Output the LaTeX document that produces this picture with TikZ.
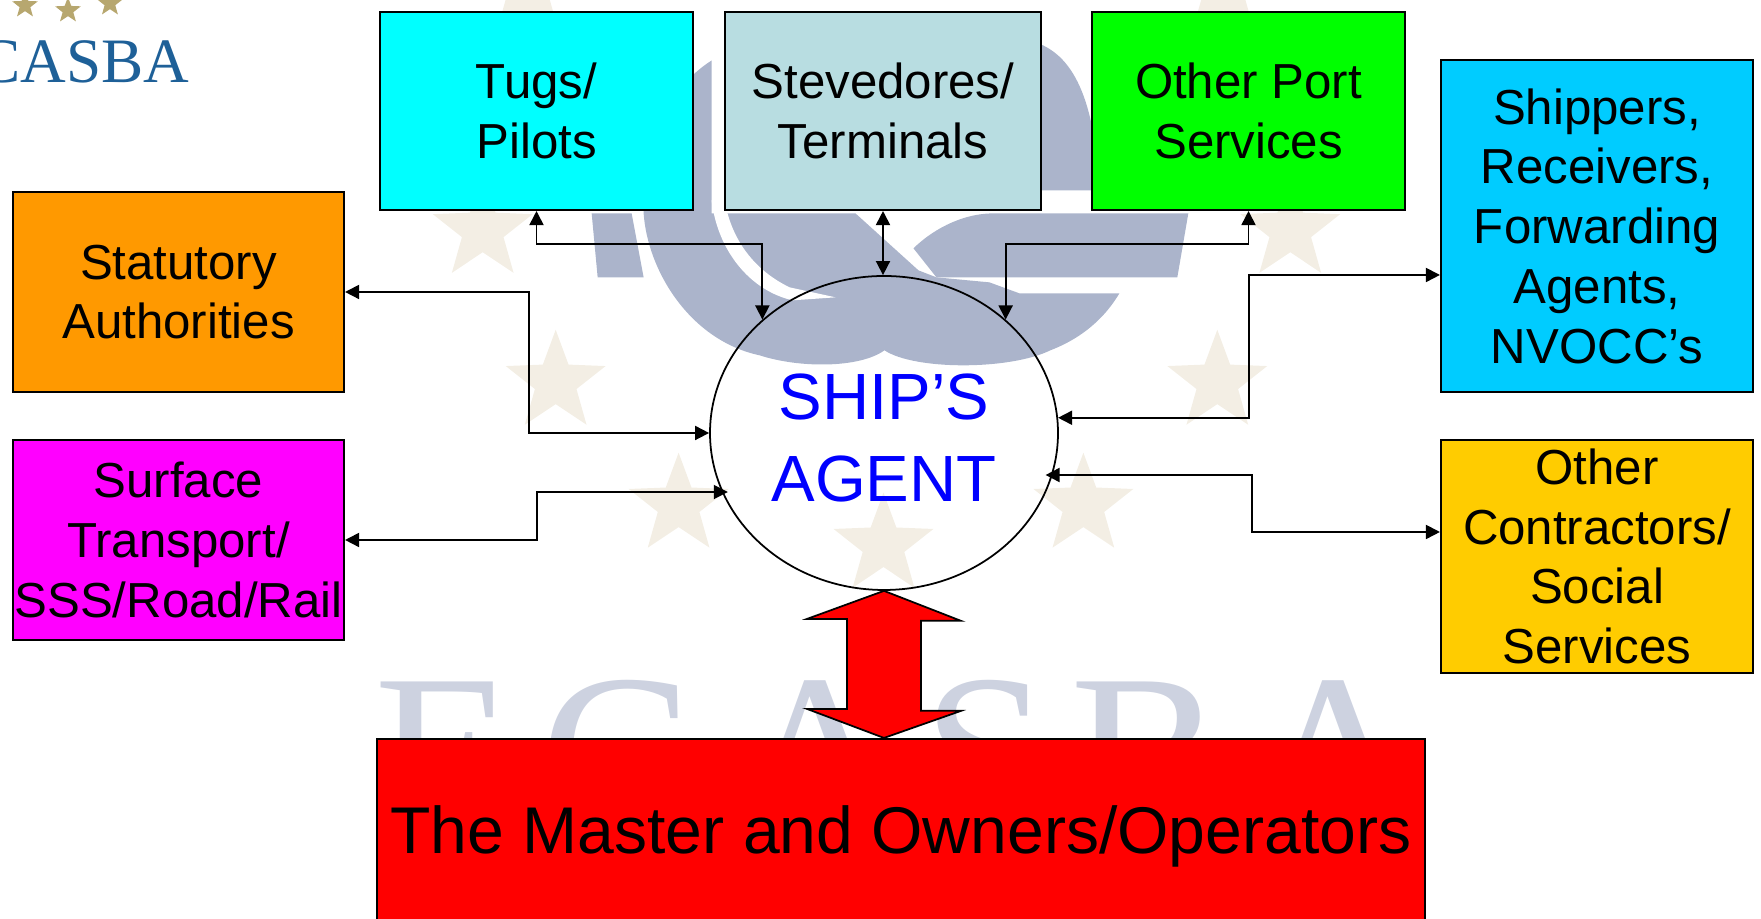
\documentclass[tikz,border=0pt]{standalone}
\usepackage{fontspec}
\setmainfont{Liberation Sans}
\newfontfamily\logofont{Liberation Serif}
\usetikzlibrary{arrows.meta,shapes.geometric}
\definecolor{tugcyan}{HTML}{00FFFF}
\definecolor{portgreen}{HTML}{00FF00}
\definecolor{surfacepink}{HTML}{FF00FF}
\definecolor{shipblue}{HTML}{00CCFF}
\definecolor{stevedore}{HTML}{B8DDE1}
\definecolor{statorange}{HTML}{FF9900}
\definecolor{contractgold}{HTML}{FFCC00}
\definecolor{markgray}{HTML}{ABB4CB}
\definecolor{lettergray}{HTML}{CDD2E0}
\definecolor{palestar}{HTML}{F3EEE4}
\definecolor{logostar}{HTML}{B7A76F}
\definecolor{logoblue}{HTML}{1E6098}

\begin{document}
\begin{tikzpicture}[
		party/.style={draw=black, line width=0.6pt, inner sep=0pt, align=center, font=\fontsize{14}{17}\selectfont},
		agentnode/.style={draw=black, line width=0.5pt, ellipse, inner sep=0pt, align=center, text=blue, minimum width=3.48cm, minimum height=3.14cm, font=\fontsize{18.6}{23.3}\selectfont},
		link/.style={{Triangle[length=4pt,width=4pt]}-{Triangle[length=4pt,width=4pt]}, line width=0.5pt, black},
		duty/.style={draw=black, line width=0.5pt, fill=red},
		watermark/.style={star, star points=5, star point ratio=2.4, minimum size=1.05cm, inner sep=0pt, fill=palestar},
		crest/.style={star, star points=5, star point ratio=2.4, minimum size=0.27cm, inner sep=0pt, fill=logostar}
		]
		
		\path[use as bounding box, clip] (0,0) rectangle (17.61,9.19);
		
		% Watermark, in reference pixels
		\begin{scope}[x=0.01cm, y=-0.01cm, shift={(0,-919)}]
			\foreach \sx/\sy in {483/230, 556/382, 679/505, 884/545, 1084/505, 1218/382, 1291/230, 1224/-12, 528/-12}
				\node[watermark] at (\sx,\sy) {};
			\foreach \ch/\cx in {E/445, C/617, A/817, S/987, B/1147, A/1336}
				\node[anchor=base, text=lettergray, inner sep=0pt, font=\logofont\fontsize{65}{65}\selectfont] at (\cx,831) {\ch};
			\fill[markgray] (592,213) -- (632,213) -- (644,277) -- (598,277) -- cycle;
			\fill[markgray] (712,60) .. controls (665,90) and (640,150) .. (644,213) .. controls (648,270) and (690,340) .. (760,355) .. controls (800,368) and (860,368) .. (885,350) .. controls (915,370) and (1010,370) .. (1051,350) .. controls (1090,335) and (1110,310) .. (1120,293) -- (1020,293) -- (990,282) -- (937,277) -- (919,270) -- (856,213) -- (712,213) -- cycle;
			\fill[white] (712,200) .. controls (718,250) and (750,290) .. (793,300) -- (836,297) -- (790,287) .. controls (755,270) and (732,240) .. (725,200) -- cycle;
			\fill[markgray] (914,248) .. controls (930,232) and (960,213) .. (994,213) -- (1189,213) -- (1178,277) -- (937,277) -- cycle;
			\fill[markgray] (1030,40) .. controls (1070,50) and (1095,90) .. (1100,190) -- (1030,190) -- cycle;
			% Logo
			\foreach \sx/\sy in {25/5, 68/10, 110/3}
				\node[crest] at (\sx,\sy) {};
			\node[anchor=base east, inner sep=0pt, text=logoblue, font=\logofont\fontsize{18}{18}\selectfont] at (190,82) {CASBA};
		\end{scope}
		
		% Nodes
		\node[party, fill=tugcyan, minimum width=3.13cm, minimum height=1.98cm] (tugs) at (5.365,8.08) {Tugs/\\Pilots};
		\node[party, fill=stevedore, minimum width=3.16cm, minimum height=1.98cm] (stevedores) at (8.83,8.08) {Stevedores/\\Terminals};
		\node[party, fill=portgreen, minimum width=3.13cm, minimum height=1.98cm] (port) at (12.485,8.08) {Other Port\\Services};
		\node[party, fill=shipblue, minimum width=3.12cm, minimum height=3.32cm] (shippers) at (15.97,6.93) {Shippers,\\Receivers,\\Forwarding\\Agents,\\NVOCC's};
		\node[party, fill=statorange, minimum width=3.31cm, minimum height=2cm] (statutory) at (1.785,6.27) {Statutory\\Authorities};
		\node[party, fill=surfacepink, minimum width=3.31cm, minimum height=2cm] (surface) at (1.785,3.79) {Surface\\Transport/\\SSS/Road/Rail};
		\node[party, fill=contractgold, minimum width=3.12cm, minimum height=2.33cm] (contractors) at (15.97,3.625) {Other\\Contractors/\\Social\\Services};
		\node[party, fill=red, minimum width=10.48cm, minimum height=1.94cm, font=\fontsize{18.8}{23}\selectfont] (master) at (9.01,0.83) {The Master and Owners/Operators};
		\node[agentnode] (agent) at (8.84,4.86) {\rule{0pt}{15.9pt}SHIP'S\\AGENT};
		
		% Arrows
		\draw[link] (statutory.east) -- ++(1.84,0) |- (agent.west);
		\draw[link] (surface.east) -- ++(1.92,0) |- ([xshift=0.06cm]agent.200);
		\draw[link] ([yshift=-0.49cm]shippers.west) -- ++(-1.91,0) |- (agent.5);
		\draw[link] ([yshift=0.245cm]contractors.west) -- ++(-1.88,0) |- ([xshift=-0.07cm]agent.-14);
		\draw[link] (tugs.south) -- ++(0,-0.33) -| (agent.137);
		\draw[link] (stevedores.south) -- (stevedores.south |- agent.north);
		\draw[link] (port.south) -- ++(0,-0.33) -| (agent.43);
		\draw[duty] (agent.south) -- ++(0.77,-0.3) -- ++(-0.4,0) -- ++(0,-0.9) -- ++(0.4,0) -- (agent.south |- master.north) -- ++(-0.77,0.29) -- ++(0.4,0) -- ++(0,0.9) -- ++(-0.4,0) -- cycle;
		
	\end{tikzpicture}
\end{document}
